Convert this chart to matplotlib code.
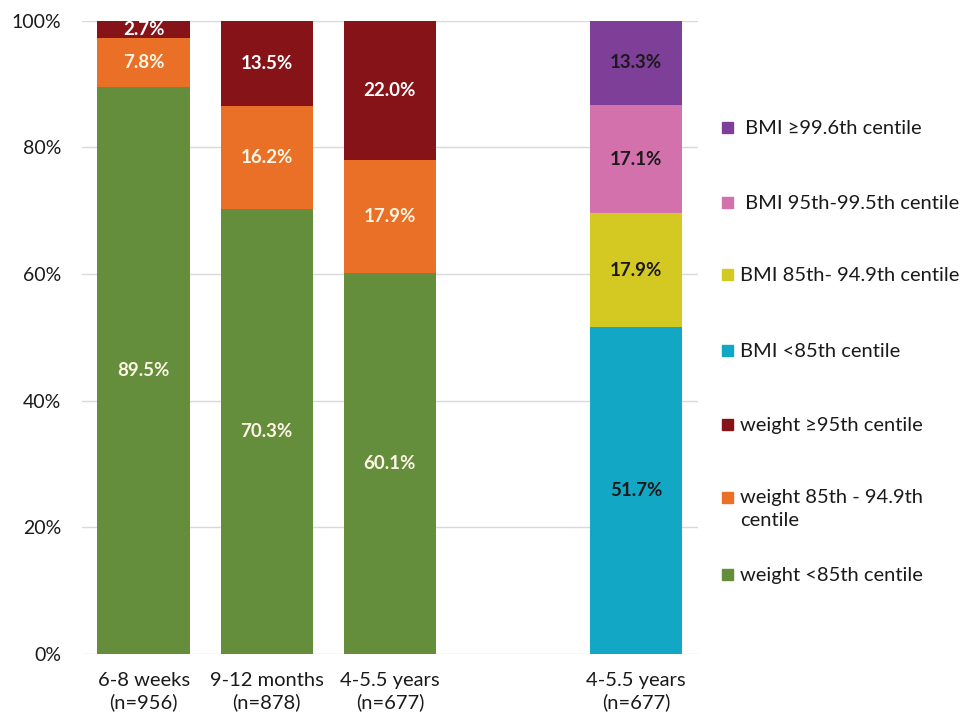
import matplotlib.pyplot as plt
from matplotlib.patches import Rectangle

plt.rcParams['font.family'] = ['Lato', 'DejaVu Sans']

# weight categories, three age groups
weight_groups = ['6-8 weeks\n(n=956)', '9-12 months\n(n=878)', '4-5.5 years\n(n=677)']
weight_lt85 = [89.5, 70.3, 60.1]
weight_85_949 = [7.8, 16.2, 17.9]
weight_ge95 = [2.7, 13.5, 22.0]

# BMI categories, school entry only
bmi_group = '4-5.5 years\n(n=677)'
bmi_lt85 = [51.7]
bmi_85_949 = [17.9]
bmi_95_995 = [17.1]
bmi_ge996 = [13.3]

c_green = '#648D3C'
c_orange = '#E97026'
c_darkred = '#861317'
c_cyan = '#12A7C4'
c_yellow = '#D4C823'
c_pink = '#D371AC'
c_purple = '#7E3F98'

fig = plt.figure(figsize=(9.65, 7.18), dpi=100)
ax = fig.add_axes([0.085, 0.089, 0.638, 0.882])

x_w = [0, 1, 2]
x_b = [4]
width = 0.75

def stack(ax, xs, series, colors, text_colors):
    bottom = [0] * len(xs)
    for vals, col, tcol in zip(series, colors, text_colors):
        bars = ax.bar(xs, vals, width, bottom=bottom, color=col, zorder=2)
        for b, v, y0 in zip(bars, vals, bottom):
            ax.text(b.get_x() + b.get_width() / 2, y0 + v / 2, f'{v:.1f}%',
                    ha='center', va='center', fontsize=13.5, fontweight='bold',
                    color=tcol, zorder=3)
        bottom = [a + v for a, v in zip(bottom, vals)]

stack(ax, x_w, [weight_lt85, weight_85_949, weight_ge95],
      [c_green, c_orange, c_darkred], ['#FDF6E6', '#FDF6E6', 'white'])
stack(ax, x_b, [bmi_lt85, bmi_85_949, bmi_95_995, bmi_ge996],
      [c_cyan, c_yellow, c_pink, c_purple], ['#1A1A1A'] * 4)

ax.set_xlim(-0.5, 4.5)
ax.set_ylim(0, 100)
ax.set_yticks(range(0, 101, 20))
ax.set_yticklabels([f'{t}%' for t in range(0, 101, 20)])
ax.set_xticks(x_w + x_b)
ax.set_xticklabels(weight_groups + [bmi_group], linespacing=1.3)
ax.tick_params(axis='y', length=0, pad=15, labelsize=14, labelcolor='#1A1A1A')
ax.tick_params(axis='x', length=0, pad=13, labelsize=14.5, labelcolor='#1A1A1A')
ax.grid(axis='y', color='#D9D9D9', linewidth=1, zorder=0)
for s in ax.spines.values():
    s.set_visible(False)

# legend drawn as squares + text down the right side
legend_items = [
    (c_purple, ' BMI \u226599.6th centile', 127),
    (c_pink, ' BMI 95th-99.5th centile', 202),
    (c_yellow, 'BMI 85th- 94.9th centile', 274),
    (c_cyan, 'BMI <85th centile', 350),
    (c_darkred, 'weight \u226595th centile', 424),
    (c_orange, 'weight 85th - 94.9th\ncentile', 497),
    (c_green, 'weight <85th centile', 574),
]
H, W = 718, 965
for col, lab, py in legend_items:
    fig.patches.append(Rectangle((722 / W, 1 - (py + 6) / H), 11 / W, 11 / H,
                                 transform=fig.transFigure, color=col))
    if '\n' in lab:
        fig.text(740 / W, 1 - (py - 8) / H, lab, fontsize=14.5, color='#1A1A1A',
                 ha='left', va='top', linespacing=1.4)
    else:
        fig.text(740 / W, 1 - (py + 7) / H, lab, fontsize=14.5, color='#1A1A1A',
                 ha='left', va='baseline')

fig.savefig('out.png', dpi=100)
